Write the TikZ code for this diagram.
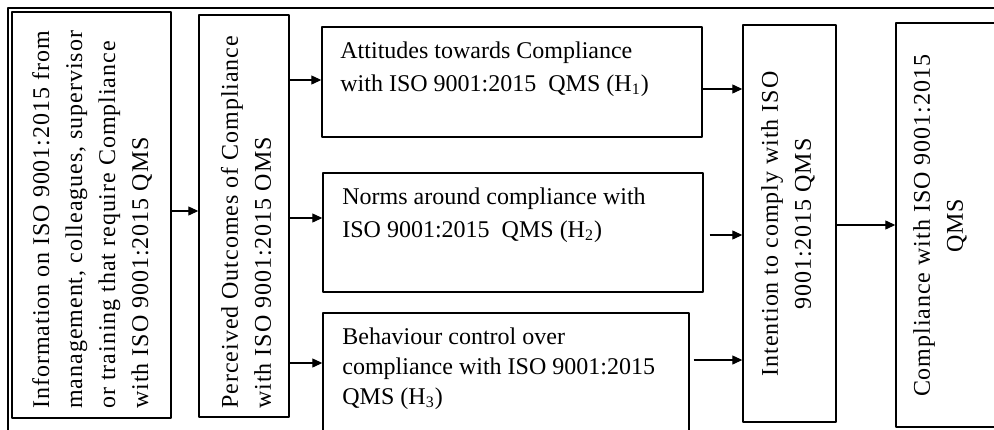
\documentclass[tikz,border=0pt]{standalone}
\usepackage{fontspec}
\setmainfont{Liberation Serif}
\newfontfamily\spacedserif{Liberation Serif}[LetterSpace=4]
\usetikzlibrary{arrows.meta,fit}
\begin{document}
\begin{tikzpicture}[x=0.5pt, y=-0.5pt, line join=round, font=\fontsize{12}{16.5}\selectfont,
	box/.style={draw, line width=0.7pt, inner sep=0pt},
	vtext/.style={rotate=90, inner sep=0pt, font=\spacedserif\fontsize{12}{16.5}\selectfont},
	htext/.style={anchor=north west, align=left, inner sep=0pt},
	arr/.style={-{Triangle[length=5pt,width=4.5pt]}, line width=0.6pt}]
	\useasboundingbox (0,0) rectangle (994,429);
	% outer frame, cut by the page
	\draw [line width=0.9pt] (8,8) rectangle (1020,460);
	% boxes
	\node [box, fit={(12,12) (171,418)}] (info) {};
	\node [box, fit={(199,15) (289,417)}] (perc) {};
	\node [box, fit={(322,27) (702,137)}] (att) {};
	\node [box, fit={(323,173) (703,292)}] (norms) {};
	\node [box, fit={(323,313) (689,460)}] (beh) {};
	\node [box, fit={(743,25) (836,422)}] (int) {};
	\node [box, fit={(896,23) (1020,427)}] (comp) {};
	% texts
	\node [vtext, anchor=west, align=left] (infotxt) at (92,409)
		{Information on ISO 9001:2015 from\\management, colleagues, supervisor\\or training that require Compliance\\with ISO 9001:2015 QMS};
	\node [vtext, anchor=west, align=left] (perctxt) at (246,409)
		{Perceived Outcomes of Compliance\\with ISO 9001:2015 OMS};
	\node [vtext, align=center] (inttxt) at (788,224)
		{Intention to comply with ISO\\9001:2015 QMS};
	\node [vtext, align=center] (comptxt) at (940,226)
		{Compliance with ISO 9001:2015\\QMS};
	\node [htext] (atttxt) at (340,41)
		{Attitudes towards Compliance\\with ISO 9001:2015~ QMS (H\textsubscript{1})};
	\node [htext] (normstxt) at (342,187)
		{Norms around compliance with\\ISO 9001:2015~ QMS (H\textsubscript{2})};
	\node [htext, font=\fontsize{12}{15}\selectfont] (behtxt) at (342,327)
		{Behaviour control over\\compliance with ISO 9001:2015\\QMS (H\textsubscript{3})};
	% arrows
	\draw [arr] (info.east |- 0,211) -- (perc.west |- 0,211);
	\draw [arr] (perc.east |- 0,80) -- (att.west |- 0,80);
	\draw [arr] (perc.east |- 0,218) -- (norms.west |- 0,218);
	\draw [arr] (perc.east |- 0,363) -- (beh.west |- 0,363);
	\draw [arr] (att.east |- 0,89) -- (int.west |- 0,89);
	\draw [arr] ([xshift=3pt]norms.east |- 0,235) -- (int.west |- 0,235);
	\draw [arr] ([xshift=2pt]beh.east |- 0,360) -- (int.west |- 0,360);
	\draw [arr] (int.east |- 0,225) -- (comp.west |- 0,225);
\end{tikzpicture}
\end{document}
